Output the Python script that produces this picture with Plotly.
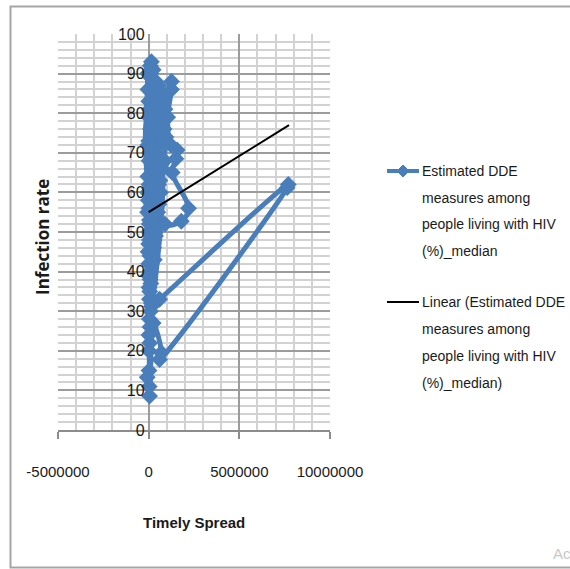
import plotly.graph_objects as go

# ---------------- data ----------------
spread = [30000, 120000, -50000, 450000, 60000, 650000, 0, 320000, 150000, -20000,
          700000, 150000, 50000, 550000, 5000, 380000, 100000, 750000, 40000, 260000,
          70000, 600000, -60000, 200000, 80000, 500000, 25000, 130000, 60000, 380000,
          150000, 600000, 7700000, 7640000, 600000, 700000, 250000, 50000, -80000, 20000,
          100000, 300000, 60000,
          180000, 1260000, 1260000, 1050000, 1220000, 1570000, 1500000, 1300000, 2200000, 1800000,
          900000, 300000,
          -40000, 640000, 40000, 340000, 850000, 30000, 190000, 470000, 330000, 0,
          110000, 560000, 20000, 370000, 900000, 45000, 210000, 690000, 360000, 5000,
          430000, 60000, 580000, 15000, 100000, 530000, -40000, 150000, 300000, 0,
          250000, 40000, 820000, -30000, 400000, 120000, 620000, 10000, 280000, 90000,
          480000, -60000, 340000, 70000, 200000, 30000, 160000, 550000, -20000, 420000,
          80000, 260000, 10000, 150000, 660000, -50000, 310000, 100000, 500000, 40000,
          950000, 20000, 760000, 60000, 880000, 10000]
infection = [52, 90, 64, 78, 35, 85, 47, 72, 93, 58,
             80, 42, 70, 62, 83, 50, 76, 66, 28, 87,
             44, 74, 60, 82, 38, 55, 68, 91, 22, 49,
             31.2, 33, 62, 61.2, 17.8, 19.5, 27, 8.6, 13.3, 15,
             30, 48, 40,
             66, 88, 86, 79, 72, 70.7, 68.5, 65, 56, 52.7,
             52, 60,
             72, 84, 33, 59, 76, 86, 45, 79, 63, 50,
             89, 57, 36, 75, 81, 81, 54, 67, 77, 42,
             84, 61, 71, 24, 49, 68, 86, 32, 58, 73,
             91, 53, 78, 45, 88, 37, 63, 79, 46, 92,
             69, 55, 82, 26, 74, 11, 57, 87, 39, 65,
             83, 52, 20, 71, 60, 90, 43, 64, 81, 48,
             74, 62, 85, 70, 68, 56]
series_name = "Estimated DDE measures among people living with HIV (%)_median"

trend_x = [0, 7740000]
trend_y = [55, 77]

x_tick_vals = [-5000000, 0, 5000000, 10000000]
x_tick_text = ["-5000000", "0", "5000000", "10000000"]
y_tick_vals = [0, 10, 20, 30, 40, 50, 60, 70, 80, 90, 100]

legend_lines_1 = ["Estimated DDE", "measures among", "people living with HIV", "(%)_median"]
legend_lines_2 = ["Linear (Estimated DDE", "measures among", "people living with HIV", "(%)_median)"]

# ---------------- layout helpers ----------------
W, H = 570, 569
L, R, T, B = 58, 330, 34, 430
PW, PH = R - L, B - T


def px(xp):
    return (xp - L) / PW


def py(yp):
    return (B - yp) / PH


BLUE = "#4a7ebb"
FONT = "Liberation Sans, Arial, sans-serif"
TXT = "#1a1a1a"

fig = go.Figure()
fig.add_trace(go.Scatter(
    x=spread, y=infection, mode="lines+markers", name=series_name,
    line=dict(color=BLUE, width=5, shape="spline", smoothing=1.0),
    marker=dict(symbol="diamond", size=13, color=BLUE),
    cliponaxis=False, showlegend=False))
fig.add_trace(go.Scatter(
    x=trend_x, y=trend_y, mode="lines", name="Linear",
    line=dict(color="black", width=2), showlegend=False))

fig.update_layout(
    width=W, height=H,
    margin=dict(l=L, r=W - R, t=T, b=H - B, pad=0),
    paper_bgcolor="white", plot_bgcolor="white",
    font=dict(family=FONT, size=15, color=TXT),
    showlegend=False,
)
fig.update_xaxes(
    range=[-5000000, 10000000], tickvals=x_tick_vals, ticktext=x_tick_text,
    showgrid=True, gridcolor="#9c9c9c", gridwidth=2,
    minor=dict(dtick=1000000, tick0=0, showgrid=True, gridcolor="#d2d2d2", gridwidth=2),
    showline=True, linecolor="#8c8c8c", linewidth=2,
    ticks="outside", ticklen=7, tickcolor="#8c8c8c", tickwidth=2,
    ticklabelstandoff=20, zeroline=False,
    tickfont=dict(family=FONT, size=15, color=TXT),
)
fig.update_yaxes(
    range=[0, 100], tickvals=y_tick_vals,
    anchor="free", position=1 / 3,
    showgrid=True, gridcolor="#9c9c9c", gridwidth=2,
    minor=dict(dtick=2, showgrid=True, gridcolor="#d2d2d2", gridwidth=2),
    showline=False, ticks="", ticklabelstandoff=4, zeroline=False,
    tickfont=dict(family=FONT, size=16, color=TXT),
)

shapes = []
# outer chart border
shapes.append(dict(type="rect", xref="paper", yref="paper",
                   x0=px(10.5), x1=px(580), y0=py(567.5), y1=py(6.5),
                   line=dict(color="#a6a6a6", width=2), layer="below"))
# legend samples
shapes.append(dict(type="line", xref="paper", yref="paper",
                   x0=px(387), x1=px(419), y0=py(171), y1=py(171),
                   line=dict(color=BLUE, width=4)))
cx, cy, d = 403, 171, 6
shapes.append(dict(type="path", xref="paper", yref="paper",
                   path=f"M {px(cx - d)} {py(cy)} L {px(cx)} {py(cy - d)} L {px(cx + d)} {py(cy)} L {px(cx)} {py(cy + d)} Z",
                   fillcolor=BLUE, line=dict(color=BLUE, width=1)))
shapes.append(dict(type="line", xref="paper", yref="paper",
                   x0=px(387), x1=px(419), y0=py(302), y1=py(302),
                   line=dict(color="black", width=2)))
fig.update_layout(shapes=shapes)

ann = []
for i, t in enumerate(legend_lines_1):
    ann.append(dict(text=t, x=px(420), y=py(171 + i * 26.5), xref="paper", yref="paper",
                    xanchor="left", yanchor="middle", showarrow=False,
                    font=dict(family=FONT, size=14, color=TXT)))
for i, t in enumerate(legend_lines_2):
    ann.append(dict(text=t, x=px(420), y=py(302 + i * 27), xref="paper", yref="paper",
                    xanchor="left", yanchor="middle", showarrow=False,
                    font=dict(family=FONT, size=14, color=TXT)))
ann.append(dict(text="<b>Infection rate</b>", x=px(42), y=py(237), xref="paper", yref="paper",
                textangle=-90, showarrow=False, xanchor="center", yanchor="middle",
                font=dict(family="Open Sans, DejaVu Sans, sans-serif", size=17, color=TXT)))
ann.append(dict(text="<b>Timely Spread</b>", x=px(194), y=py(522), xref="paper", yref="paper",
                showarrow=False, xanchor="center", yanchor="middle",
                font=dict(family=FONT, size=15, color=TXT)))
ann.append(dict(text="Ac", x=px(551), y=py(553), xref="paper", yref="paper",
                showarrow=False, xanchor="left", yanchor="middle",
                font=dict(family="Liberation Sans, sans-serif", size=15, color="#c8c8c8")))
fig.update_layout(annotations=ann)

fig.write_html("out.html")
